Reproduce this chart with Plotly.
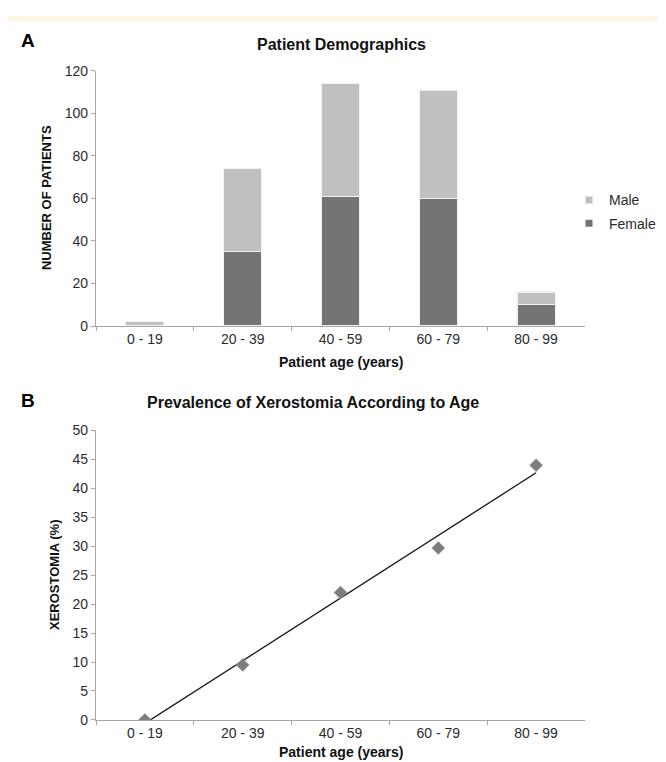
import numpy as np
import plotly.graph_objects as go

age_groups = ["0 - 19", "20 - 39", "40 - 59", "60 - 79", "80 - 99"]
female = [0, 35, 61, 60, 10]
male = [2, 39, 53, 51, 6]
xerostomia = [0, 9.5, 22, 29.7, 44]

W, H = 666, 762
def px(x): return x / W
def py(y): return 1 - y / H

FONT = "Liberation Sans, Arial, sans-serif"
AX = "#a6a6a6"
TXT = "#2b2b2b"
MALE_C = "#c0c0c0"
FEMALE_C = "#747474"

fig = go.Figure()

# Panel A: stacked bars
fig.add_trace(go.Bar(x=age_groups, y=female, name="Female", marker=dict(color=FEMALE_C, line=dict(color="#f2f2f2", width=1.2)),
                     width=0.39, xaxis="x", yaxis="y", showlegend=False))
fig.add_trace(go.Bar(x=age_groups, y=male, name="Male", marker=dict(color=MALE_C, line=dict(color="#f2f2f2", width=1.2)),
                     width=0.39, xaxis="x", yaxis="y", showlegend=False))
# legend entries with small squares
fig.add_trace(go.Scatter(x=[None], y=[None], mode="markers", name="Male", legendgroup="m",
                         marker=dict(symbol="square", size=7, color=MALE_C), xaxis="x", yaxis="y"))
fig.add_trace(go.Scatter(x=[None], y=[None], mode="markers", name="Female", legendgroup="f",
                         marker=dict(symbol="square", size=7, color=FEMALE_C), xaxis="x", yaxis="y"))

# Panel B: scatter + linear trendline
idx = np.arange(len(age_groups))
slope, intercept = np.polyfit(idx, xerostomia, 1)
fig.add_trace(go.Scatter(x=[age_groups[0], age_groups[-1]], y=[intercept, slope * idx[-1] + intercept],
                         mode="lines", line=dict(color="#111111", width=1.3), xaxis="x2", yaxis="y2", showlegend=False))
fig.add_trace(go.Scatter(x=age_groups, y=xerostomia, mode="markers",
                         marker=dict(symbol="diamond", size=10, color="#7d7d7d", line=dict(color="#9a9a9a", width=0.5)),
                         xaxis="x2", yaxis="y2", showlegend=False))

xdom = [px(88), px(577)]
common_x = dict(type="category", categoryorder="array", categoryarray=age_groups, range=[-0.5, 4.5],
                showline=True, linecolor=AX, linewidth=1.3,
                ticks="outside", tickson="boundaries", ticklen=4, tickcolor=AX, tickwidth=1.2,
                showgrid=False, zeroline=False, tickfont=dict(family=FONT, size=14, color=TXT),
                fixedrange=True)
common_y = dict(showline=True, linecolor=AX, linewidth=1.3, ticks="outside", ticklen=4, tickcolor=AX,
                tickwidth=1.2, showgrid=False, zeroline=False, tickfont=dict(family=FONT, size=14, color=TXT))

fig.update_layout(
    width=W, height=H, margin=dict(l=0, r=0, t=0, b=0),
    paper_bgcolor="white", plot_bgcolor="white",
    barmode="stack",
    font=dict(family=FONT, color=TXT),
    xaxis=dict(domain=xdom, anchor="y", **common_x),
    yaxis=dict(domain=[py(316.7), py(56)], anchor="x", range=[0, 120], dtick=20, **common_y),
    xaxis2=dict(domain=xdom, anchor="y2", **common_x),
    yaxis2=dict(domain=[py(719), py(423.3)], anchor="x2", range=[0, 50], dtick=5, **common_y),
    legend=dict(x=px(561), y=py(172), xanchor="left", yanchor="top", bgcolor="rgba(0,0,0,0)",
                font=dict(family=FONT, size=14, color=TXT), tracegroupgap=2, itemwidth=30),
    showlegend=True,
)

# top strip
fig.add_shape(type="rect", xref="paper", yref="paper", x0=0, x1=1, y0=py(5), y1=1,
              fillcolor="#fdf8e6", line=dict(width=0), layer="below")

ann = [
    dict(text="<b>A</b>", x=px(11), y=py(25), xanchor="left", size=19, color="black"),
    dict(text="<b>B</b>", x=px(11), y=py(393), xanchor="left", size=19, color="black"),
    dict(text="<b>Patient Demographics</b>", x=px(333), y=py(29), xanchor="center", size=16, color="#111111"),
    dict(text="<b>Prevalence of Xerostomia According to Age</b>", x=px(305), y=py(395), xanchor="center", size=16, color="#111111"),
    dict(text="<b>Patient age (years)</b>", x=px(333), y=py(353), xanchor="center", size=14, color="#111111"),
    dict(text="<b>Patient age (years)</b>", x=px(333), y=py(752), xanchor="center", size=14, color="#111111"),
]
for a in ann:
    fig.add_annotation(text=a["text"], x=a["x"], y=a["y"], xref="paper", yref="paper",
                       xanchor=a["xanchor"], yanchor="middle", showarrow=False,
                       font=dict(family=FONT, size=a["size"], color=a["color"]))
fig.add_annotation(text="<b>NUMBER OF PATIENTS</b>", x=px(38), y=py(186), xref="paper", yref="paper",
                   textangle=-90, showarrow=False, xanchor="center", yanchor="middle",
                   font=dict(family=FONT, size=13, color="#111111"))
fig.add_annotation(text="<b>XEROSTOMIA (%)</b>", x=px(46), y=py(571), xref="paper", yref="paper",
                   textangle=-90, showarrow=False, xanchor="center", yanchor="middle",
                   font=dict(family=FONT, size=13, color="#111111"))

fig.write_html("out.html")
